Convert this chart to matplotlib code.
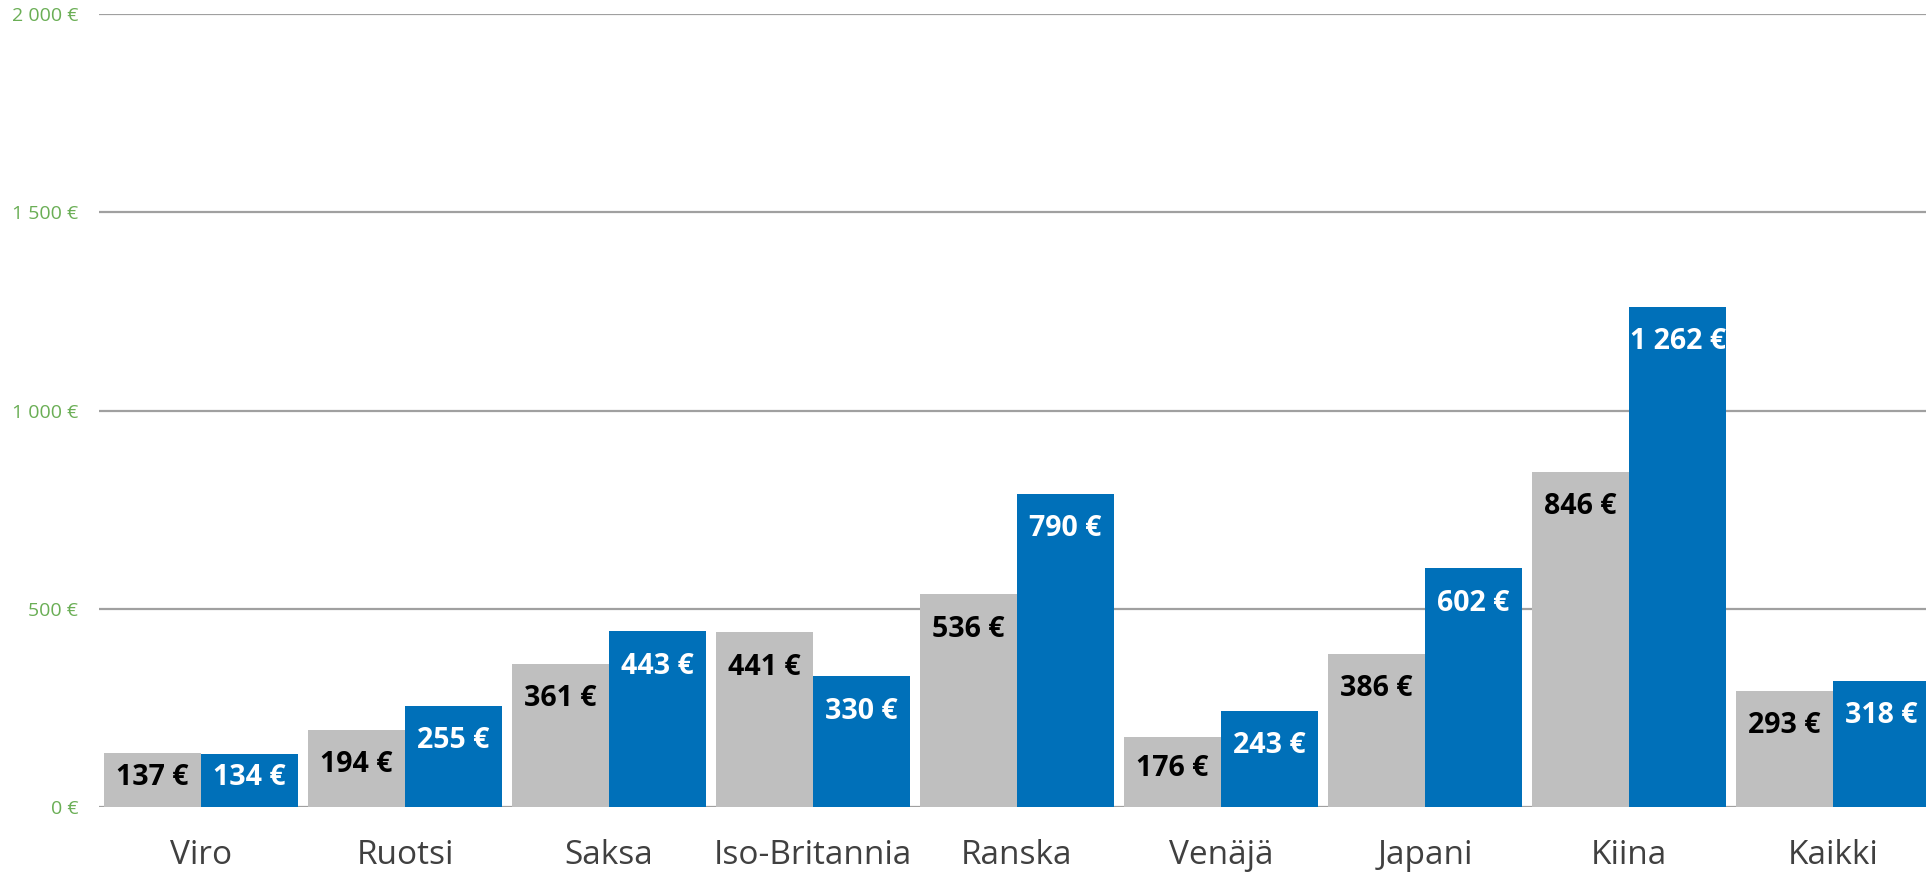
import matplotlib
matplotlib.use("Agg")
import matplotlib.pyplot as plt
import numpy as np

categories = ['Viro', 'Ruotsi', 'Saksa', 'Iso-Britannia', 'Ranska', 'Venäjä', 'Japani', 'Kiina', 'Kaikki']
series_gray = [137, 194, 361, 441, 536, 176, 386, 846, 293]
series_blue = [134, 255, 443, 330, 790, 243, 602, 1262, 318]
y_ticks = [0, 500, 1000, 1500, 2000]

plt.rcParams['font.family'] = ['Open Sans', 'DejaVu Sans']

W, H = 1926, 873
fig = plt.figure(figsize=(W / 100, H / 100), dpi=100)
ax = fig.add_axes([99 / W, (H - 807) / H, 1836 / W, (807 - 14) / H])

def eur(v):
    return f"{v:,}".replace(",", " ") + " €"

x = np.arange(len(categories))
bw = 0.4755
gray_bars = ax.bar(x - bw / 2, series_gray, bw, color='#BFBFBF', zorder=2)
blue_bars = ax.bar(x + bw / 2, series_blue, bw, color='#0070B9', zorder=2)

for bars, vals, col in [(gray_bars, series_gray, 'black'), (blue_bars, series_blue, 'white')]:
    for b, v in zip(bars, vals):
        ypos = max(v - 88, 0.55 * v)
        t = ax.text(b.get_x() + b.get_width() / 2, ypos, eur(v), ha='center', va='center',
                    fontsize=20.5, fontweight='bold', color=col, zorder=3)
        t.set_clip_path(b)

ax.set_xlim(-0.5, len(categories) - 0.5)
ax.set_ylim(0, 2000)
ax.set_yticks(y_ticks)
ax.set_yticklabels([eur(v) for v in y_ticks], fontsize=14, color='#6AAE55')
ax.set_xticks(x)
ax.set_xticklabels(categories, fontsize=24, color='#404040')
ax.tick_params(axis='y', length=0, pad=15)
ax.tick_params(axis='x', length=0, pad=23)
ax.yaxis.grid(True, color='#A0A0A0', linewidth=1.6, zorder=1)
ax.set_axisbelow(True)
for s in ax.spines.values():
    s.set_visible(False)

fig.savefig('out.png', dpi=100)
